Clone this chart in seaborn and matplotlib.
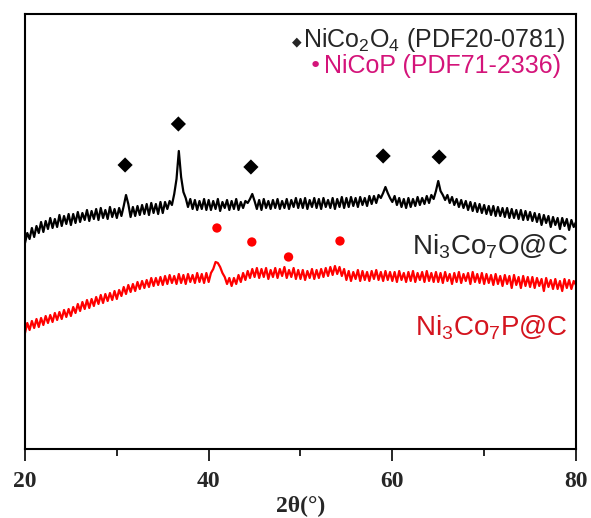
import numpy as np
import pandas as pd
import matplotlib
matplotlib.use("Agg")
import matplotlib.pyplot as plt
import seaborn as sns

# 2theta sampling grid (0.25 deg steps) and intensities (a.u.)
two_theta = np.round(np.arange(20, 80.001, 0.25), 2)

oxide = [
    206, 216, 210, 221, 212, 223, 216, 227, 217, 228, 220, 231, 221, 230, 222, 234, 223, 233, 225, 235,
    224, 235, 226, 237, 227, 236, 229, 239, 228, 238, 230, 240, 229, 241, 231, 239, 230, 242, 232, 240,
    231, 241, 233, 243, 254, 245, 232, 242, 233, 243, 234, 244, 235, 245, 234, 246, 236, 245, 235, 247,
    236, 247, 240, 248, 244, 255, 270, 298, 272, 257, 251, 242, 250, 240, 249, 239, 248, 240, 250, 239,
    249, 239, 248, 240, 250, 238, 247, 241, 249, 239, 248, 240, 250, 239, 247, 241, 248, 246, 250, 255,
    248, 240, 249, 239, 250, 241, 248, 240, 249, 241, 250, 240, 248, 241, 250, 240, 249, 242, 251, 241,
    250, 241, 251, 240, 249, 242, 251, 241, 250, 240, 251, 242, 249, 241, 251, 240, 250, 242, 252, 241,
    251, 242, 252, 243, 251, 242, 252, 244, 251, 243, 253, 245, 253, 246, 254, 251, 256, 262, 256, 251,
    247, 253, 244, 251, 242, 250, 241, 251, 242, 250, 243, 252, 244, 251, 245, 253, 246, 254, 250, 258,
    268, 258, 254, 249, 254, 246, 252, 244, 250, 242, 249, 241, 248, 239, 247, 238, 246, 237, 245, 236,
    244, 235, 243, 234, 243, 233, 242, 233, 241, 232, 241, 231, 240, 231, 239, 230, 239, 229, 238, 229,
    237, 228, 236, 227, 235, 224, 234, 226, 233, 222, 232, 224, 231, 220, 231, 223, 230, 219, 229, 222,
    227,
]

phosphide = [
    116, 126, 119, 128, 121, 130, 122, 131, 124, 133, 126, 134, 127, 136, 129, 137, 130, 139, 132, 140,
    133, 142, 136, 145, 138, 147, 140, 149, 141, 150, 143, 152, 145, 154, 146, 155, 148, 156, 149, 158,
    150, 159, 153, 162, 155, 164, 157, 165, 158, 167, 160, 168, 161, 169, 162, 171, 163, 171, 164, 172,
    164, 173, 165, 174, 166, 173, 165, 175, 166, 174, 165, 175, 167, 174, 166, 176, 167, 175, 166, 176,
    167, 176, 180, 187, 186, 182, 176, 172, 165, 171, 163, 171, 165, 174, 167, 176, 169, 178, 171, 180,
    172, 181, 171, 180, 172, 181, 170, 179, 172, 181, 171, 180, 173, 182, 171, 179, 172, 181, 170, 179,
    170, 179, 169, 178, 171, 180, 170, 179, 171, 180, 172, 181, 173, 182, 174, 183, 175, 182, 173, 180,
    169, 178, 168, 177, 170, 179, 168, 178, 169, 177, 168, 178, 170, 179, 169, 177, 168, 178, 169, 177,
    168, 177, 167, 178, 169, 176, 167, 177, 168, 178, 167, 176, 169, 177, 167, 178, 168, 176, 167, 177,
    167, 176, 166, 177, 168, 175, 165, 176, 167, 177, 166, 175, 168, 176, 165, 177, 167, 175, 166, 176,
    165, 175, 166, 174, 164, 175, 165, 173, 163, 174, 165, 173, 161, 174, 164, 172, 161, 173, 163, 172,
    162, 172, 161, 171, 163, 170, 158, 171, 162, 169, 160, 170, 160, 168, 158, 170, 161, 169, 160, 168,
    164,
]

# reference peak markers
nco_pos = [30.9, 36.7, 44.6, 59.0, 65.1]
nco_h = [284, 325, 282, 293, 292]
ncp_pos = [40.9, 44.7, 48.7, 54.3]
ncp_h = [221, 207, 192, 208]

sns.set_style("ticks")
plt.rcParams["font.family"] = ["Liberation Sans", "DejaVu Sans"]
plt.rcParams["mathtext.fontset"] = "custom"
plt.rcParams["mathtext.rm"] = "Liberation Sans"
plt.rcParams["mathtext.default"] = "regular"

df = pd.DataFrame({"2theta": np.concatenate([two_theta, two_theta]),
                   "I": oxide + phosphide,
                   "sample": ["O"] * len(oxide) + ["P"] * len(phosphide)})

fig = plt.figure(figsize=(5.91, 5.18), dpi=100)
ax = fig.add_axes([0.0423, 0.1332, 0.9323, 0.8398])

sns.lineplot(data=df, x="2theta", y="I", hue="sample", palette={"O": "black", "P": "#ff0000"},
             linewidth=1.6, legend=False, ax=ax, estimator=None)
sns.scatterplot(x=nco_pos, y=nco_h, marker="D", color="black", s=60, edgecolor="none", ax=ax)
sns.scatterplot(x=ncp_pos, y=ncp_h, marker="o", color="#ff0000", s=45, edgecolor="none", ax=ax)

ax.set_xlim(20, 80)
ax.set_ylim(0, 435)
ax.set_yticks([])
ax.set_ylabel("")
ax.set_xticks([20, 40, 60, 80])
ax.set_xticks([30, 50, 70], minor=True)
ax.tick_params(axis="x", which="major", direction="out", length=8.5, width=1.4, pad=7)
ax.tick_params(axis="x", which="minor", direction="out", length=5, width=1.4)
for lab in ax.get_xticklabels():
    lab.set_fontfamily("Liberation Serif")
    lab.set_fontweight("bold")
    lab.set_fontsize(17)
for sp in ax.spines.values():
    sp.set_linewidth(1.5)
    sp.set_color("black")
ax.set_xlabel("2θ(°)", fontfamily="Liberation Serif", fontweight="bold", fontsize=17, labelpad=3)

ax.text(0.493, 0.927, "◆", transform=ax.transAxes, fontsize=9, ha="center", va="baseline",
        family=["DejaVu Sans"])
ax.text(0.5045, 0.924, "NiCo$_2$O$_4$ (PDF20-0781)", transform=ax.transAxes, fontsize=18,
        ha="left", va="baseline")
ax.text(0.526, 0.866, "•", transform=ax.transAxes, fontsize=16, ha="center", va="baseline",
        color="#d4147a", family=["DejaVu Sans"])
ax.text(0.542, 0.864, "NiCoP (PDF71-2336)", transform=ax.transAxes, fontsize=18,
        ha="left", va="baseline", color="#d4147a")
ax.text(0.985, 0.446, "Ni$_3$Co$_7$O@C", transform=ax.transAxes, fontsize=20,
        ha="right", va="baseline")
ax.text(0.985, 0.262, "Ni$_3$Co$_7$P@C", transform=ax.transAxes, fontsize=20,
        ha="right", va="baseline", color="#d4141e")

fig.savefig("out.png", dpi=100)
